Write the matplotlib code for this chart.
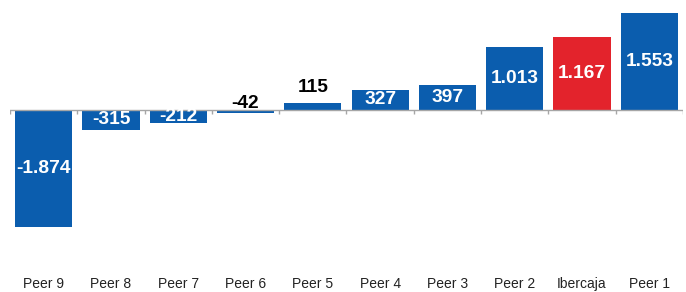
import matplotlib.pyplot as plt
import numpy as np

# data
peers = ['Peer 9', 'Peer 8', 'Peer 7', 'Peer 6', 'Peer 5',
         'Peer 4', 'Peer 3', 'Peer 2', 'Ibercaja', 'Peer 1']
values = [-1874, -315, -212, -42, 115, 327, 397, 1013, 1167, 1553]
labels = ['-1.874', '-315', '-212', '-42', '115', '327', '397', '1.013', '1.167', '1.553']

blue = '#0B5DAE'
red = '#E3232C'
colors = [red if p == 'Ibercaja' else blue for p in peers]

plt.rcParams['font.family'] = ['Liberation Sans', 'DejaVu Sans']

fig = plt.figure(figsize=(6.86, 2.92), dpi=100)
# axes: x from 10 to 683 px, y from top 0 to 270 px
ax = fig.add_axes([10 / 686, 22 / 292, 673 / 686, 270 / 292])

x = np.arange(len(peers))
ax.bar(x, values, width=0.85, color=colors, zorder=2)

# zero line with little ticks at category boundaries
ax.axhline(0, color='#A6A6A6', lw=1, zorder=3)
ax.vlines(np.arange(-0.5, len(peers)), -64, 0, color='#A6A6A6', lw=1, zorder=3)

for xi, v, lab in zip(x, values, labels):
    if abs(v) < 200:
        y = max(v, 0) + (240 if v > 0 else 100)
        ax.text(xi, y, lab, ha='center', va='center', color='black',
                fontsize=13.8, fontweight='bold', zorder=4)
    else:
        ax.text(xi, v / 2, lab, ha='center', va='center', color='white',
                fontsize=13.8, fontweight='bold', zorder=4)

ax.set_xlim(-0.5, len(peers) - 0.5)
ax.set_ylim(-2560, 1760)
ax.set_xticks(x)
ax.set_xticklabels(peers, fontsize=10, color='#222222',
                   family=['Liberation Sans Narrow', 'Liberation Sans'])
ax.tick_params(axis='x', length=0, pad=5)
ax.set_yticks([])
for s in ax.spines.values():
    s.set_visible(False)

fig.savefig('out.png', dpi=100)
